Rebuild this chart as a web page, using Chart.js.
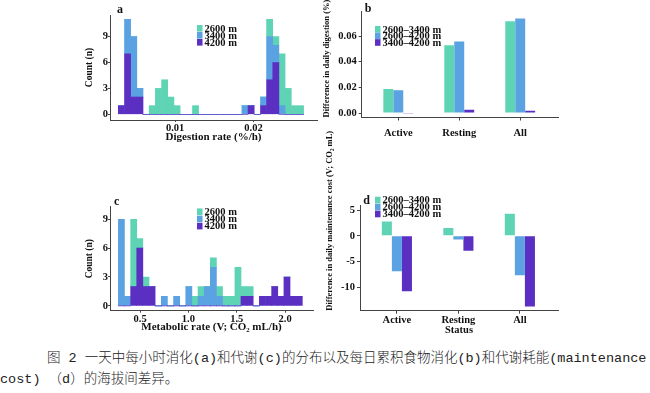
<!DOCTYPE html>
<html>
<head>
<meta charset="utf-8">
<script src="https://cdn.jsdelivr.net/npm/chart.js@4.4.1/dist/chart.umd.min.js"></script>
<style>
  html, body { margin: 0; padding: 0; background: #fff; }
  body { width: 650px; height: 393px; position: relative; overflow: hidden; }
  canvas { position: absolute; }
  #cap {
    position: absolute; left: 0; top: 348px; width: 650px;
    font-family: "Liberation Mono", "Noto Sans CJK SC", monospace;
    font-size: 13.5px; font-weight: 300; line-height: 21px; color: #222;
    white-space: nowrap;
  }
  #cap .l1 { padding-left: 47px; }
</style>
</head>
<body>
<canvas id="pa" width="330" height="150" style="left:0;top:0"></canvas>
<canvas id="pb" width="245" height="145" style="left:320px;top:0"></canvas>
<canvas id="pc" width="330" height="190" style="left:0;top:150px"></canvas>
<canvas id="pd" width="245" height="220" style="left:320px;top:120px"></canvas>
<div id="cap"><span class="l1">图 2 一天中每小时消化(a)和代谢(c)的分布以及每日累积食物消化(b)和代谢耗能(maintenance</span><br>cost) （d）的海拔间差异。</div>

<script>
// (a) hourly digestion rate, %/h -- bin centres and counts per altitude
const digBins = [0.00315, 0.00394, 0.00473, 0.00552, 0.00630, 0.00709, 0.00788, 0.00867, 0.00946, 0.01025,
                 0.01103, 0.01182, 0.01261, 0.01340, 0.01419, 0.01497, 0.01576, 0.01655, 0.01734, 0.01812,
                 0.01891, 0.01970, 0.02049, 0.02128, 0.02206, 0.02285, 0.02364, 0.02443, 0.02522, 0.02600]
const dig2600 = [0,0,0,0,0, 1,3,4,2,1, 0,0,1,0,0, 0,0,0,0,0, 0,0,0,0,2, 1,6,3,1,1]
const dig3400 = [0,4,7,1,0, 0,0,0,0,0, 0,0,0,0,0, 0,0,0,0,0, 1,0,0,1,5, 2,1,0,0,0]
const dig4200 = [1,7,2,2,0, 0,0,0,0,0, 0,0,0,0,0, 0,0,0,0,0, 0,1,0,1,4, 6,0,0,0,0]
const digTicks = [0.01, 0.02]

// (c) hourly metabolic rate, CO2 mL/h
const metBins = [0.307, 0.370, 0.434, 0.497, 0.561, 0.624, 0.687, 0.751, 0.814, 0.878,
                 0.941, 1.004, 1.068, 1.131, 1.195, 1.258, 1.321, 1.385, 1.448, 1.512,
                 1.575, 1.638, 1.702, 1.765, 1.829, 1.892, 1.955, 2.019, 2.082, 2.146]
const met2600 = [0,0,7,1,1, 0,0,0,0,0, 0,0,1,1,0, 1,1,1,1,4, 1,1,0,0,0, 0,0,0,0,0]
const met3400 = [9,1,0,0,0, 0,0,1,0,1, 0,2,0,1,2, 4,1,0,0,0, 0,0,0,0,0, 0,0,0,0,0]
const met4200 = [0,0,2,6,2, 2,0,0,0,0, 0,0,0,0,0, 0,0,0,0,0, 1,1,0,1,1, 2,1,3,1,1]
const metTicks = [0.5, 1.0, 1.5, 2.0]
const countTicks = [0, 3, 6, 9]

// (b) and (d) differences between altitudes by status
const statusCats = ['Active', 'Resting', 'All']
const statusPos = [1, 2, 3]
const pairLabels = ['2600–3400 m', '2600–4200 m', '3400–4200 m']
const digDiff2634 = [0.0188, 0.0528, 0.0716]
const digDiff2642 = [0.0177, 0.0557, 0.0737]
const digDiff3442 = [-0.0006, 0.0026, 0.0018]
const digDiffTicks = [0, 0.02, 0.04, 0.06]
const costDiff2634 = [2.8, 1.5, 4.3]
const costDiff2642 = [-6.9, -0.7, -7.7]
const costDiff3442 = [-10.8, -2.9, -13.8]
const costTicks = [-10, -5, 0, 5]

const green = '#5fd4b4'
const blue = '#5aa2e2'
const purple = '#5a2fc2'
const ink = '#111'
const axisCol = '#444'
const serif = '"Liberation Serif", "Times New Roman", serif'
const font = (size) => ({ family: serif, weight: 'bold', size: size })

// panel letter + legend drawn inside the panel
const deco = {
  id: 'deco',
  afterDraw(chart, args, o) {
    const ctx = chart.ctx
    ctx.save()
    ctx.textBaseline = 'middle'
    ctx.fillStyle = ink
    ctx.textAlign = 'center'
    ctx.font = 'bold 12px ' + serif
    ctx.fillText(o.letter, o.lx, o.ly)
    ctx.textAlign = 'left'
    ctx.font = 'bold 10.5px ' + serif
    o.order.forEach((di, row) => {
      const ds = chart.data.datasets[di]
      const y = o.y + row * o.gap
      ctx.fillStyle = ds.backgroundColor
      ctx.fillRect(o.x, y - 3.3, 5.5, 6.6)
      ctx.fillStyle = ink
      ctx.fillText(ds.label, o.x + 7.5, y + 0.5)
    })
    ctx.restore()
  }
}

function histogram(id, c) {
  return new Chart(document.getElementById(id), {
    type: 'bar',
    data: {
      labels: c.bins,
      datasets: [
        { label: '4200 m', data: c.s4200, backgroundColor: purple },
        { label: '3400 m', data: c.s3400, backgroundColor: blue },
        { label: '2600 m', data: c.s2600, backgroundColor: green }
      ]
    },
    options: {
      responsive: false,
      animation: false,
      layout: { padding: c.pad },
      datasets: { bar: { barPercentage: 1, categoryPercentage: 1, borderWidth: 0 } },
      plugins: { legend: { display: false }, tooltip: { enabled: false }, deco: c.deco },
      scales: {
        x: {
          type: 'linear', stacked: true, offset: false,
          min: c.xr[0], max: c.xr[1],
          afterBuildTicks: s => { s.ticks = c.xTicks.map(v => ({ value: v })) },
          afterFit: s => { s.height = c.xh },
          ticks: { font: font(10.5), color: ink, padding: 0, maxRotation: 0, autoSkip: false,
                   callback: v => v.toFixed(c.dec) },
          grid: { drawOnChartArea: false, offset: false, tickLength: 2, color: axisCol },
          border: { color: axisCol },
          title: { display: true, text: c.xTitle, font: font(11), color: ink, padding: { top: 0, bottom: 6.5 } }
        },
        y: {
          stacked: true,
          min: c.yr[0], max: c.yr[1],
          afterBuildTicks: s => { s.ticks = countTicks.map(v => ({ value: v })) },
          afterFit: s => { s.width = 110 },
          ticks: { font: font(10.5), color: ink, padding: 0 },
          grid: { drawOnChartArea: false, tickLength: 2, color: axisCol },
          border: { color: axisCol },
          title: { display: true, text: 'Count (n)', font: font(9.5), color: ink, padding: { top: 84 } }
        }
      }
    },
    plugins: [deco]
  })
}

function diffChart(id, c) {
  const colors = [green, blue, purple]
  return new Chart(document.getElementById(id), {
    type: 'bar',
    data: {
      labels: statusPos,
      datasets: c.series.map((s, i) => ({ label: pairLabels[i], data: s, backgroundColor: colors[i] }))
    },
    options: {
      responsive: false,
      animation: false,
      layout: { padding: c.pad },
      datasets: { bar: { barPercentage: 1, categoryPercentage: 0.49, borderWidth: 0 } },
      plugins: { legend: { display: false }, tooltip: { enabled: false }, deco: c.deco },
      scales: {
        x: {
          type: 'linear', offset: false, min: 0.4, max: 3.62,
          afterBuildTicks: s => { s.ticks = statusPos.map(v => ({ value: v })) },
          afterFit: s => { s.height = c.xh },
          ticks: { font: font(10.5), color: ink, padding: c.xPad, maxRotation: 0, autoSkip: false,
                   callback: v => statusCats[v - 1] },
          grid: { drawOnChartArea: false, offset: false, tickLength: 3, color: axisCol },
          border: { color: axisCol },
          title: { display: !!c.xTitle, text: c.xTitle || '', font: font(10.5), color: ink, padding: { top: 0, bottom: 3.5 } }
        },
        y: {
          min: c.yr[0], max: c.yr[1],
          afterBuildTicks: s => { s.ticks = c.yTicks.map(v => ({ value: v })) },
          afterFit: s => { s.width = c.yw },
          ticks: { font: font(10.5), color: ink, padding: 2, callback: c.fmt },
          grid: { drawOnChartArea: false, tickLength: 3, color: axisCol },
          border: { color: axisCol },
          title: { display: true, text: c.yTitle, align: 'start', font: font(8.5), color: ink, padding: { top: c.yTitlePad } }
        }
      }
    },
    plugins: [deco]
  })
}

histogram('pa', {
  bins: digBins, s2600: dig2600, s3400: dig3400, s4200: dig4200,
  xr: [0.0017, 0.0281], yr: [-0.66, 11.5], xTicks: digTicks, dec: 2,
  xTitle: 'Digestion rate (%/h)', xh: 30,
  pad: { left: 0, right: 13, top: 15, bottom: 0 },
  deco: { letter: 'a', lx: 120, ly: 9.5, x: 197, y: 28.3, gap: 7, order: [2, 1, 0] }
})

histogram('pc', {
  bins: metBins, s2600: met2600, s3400: met3400, s4200: met4200,
  xr: [0.189, 2.288], yr: [-0.5, 10.3], xTicks: metTicks, dec: 1,
  xTitle: 'Metabolic rate (V; CO₂ mL/h)', xh: 29.3,
  pad: { left: 0, right: 17, top: 56.7, bottom: 0 },
  deco: { letter: 'c', lx: 116.7, ly: 51.7, x: 197, y: 61.7, gap: 7.2, order: [2, 1, 0] }
})

diffChart('pb', {
  series: [digDiff2634, digDiff2642, digDiff3442],
  yr: [-0.0035, 0.079], yTicks: digDiffTicks, fmt: v => v.toFixed(2),
  yTitle: 'Difference in daily digestion (%)', yTitlePad: 1.5, yw: 41.7,
  xh: 27.5, xPad: 6,
  pad: { left: 0, right: 7, top: 11.7, bottom: 0 },
  deco: { letter: 'b', lx: 48, ly: 9, x: 55, y: 29.3, gap: 6.6, order: [0, 1, 2] }
})

diffChart('pd', {
  series: [costDiff2634, costDiff2642, costDiff3442],
  yr: [-14.6, 6], yTicks: costTicks, fmt: v => String(v),
  yTitle: 'Difference in daily maintenance cost (V; CO₂ mL)', yTitlePad: 4.5, yw: 40,
  xh: 29.3, xPad: 0, xTitle: 'Status',
  pad: { left: 0, right: 7, top: 85, bottom: 0 },
  deco: { letter: 'd', lx: 366.7 - 320, ly: 81, x: 55, y: 80, gap: 7, order: [0, 1, 2] }
})
</script>
</body>
</html>
